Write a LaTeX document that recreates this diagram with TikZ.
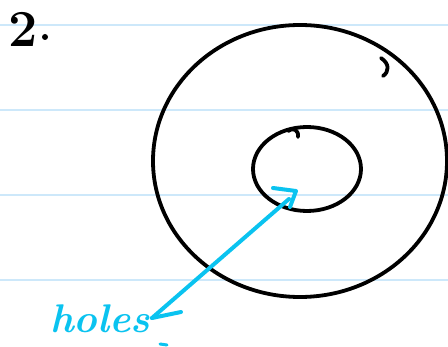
\documentclass[tikz,border=0pt]{standalone}
\usepackage{fontspec}
\begin{document}
\begin{tikzpicture}[x=1pt,y=-1pt,
  ruleline/.style={draw=rulecol,line width=1.5pt},
  ink/.style={draw=black,line width=3.8pt,line cap=round,line join=round},
  cyanink/.style={draw=cyanc,line width=4pt,line cap=round,line join=round}]
\definecolor{rulecol}{RGB}{205,232,250}
\definecolor{cyanc}{RGB}{10,195,240}
\useasboundingbox (0,0) rectangle (448,347);
\fill[white] (0,0) rectangle (448,347);
% notebook lines
\foreach \yy in {25,110,195,280} \draw[ruleline] (0,\yy) -- (448,\yy);
% label 2.
\node[anchor=base west,inner sep=0pt,font=\fontsize{52}{52}\selectfont\bfseries] (num) at (8,47) {2};
\fill (45,37) circle (3);
% outer circle
\coordinate (oc) at (300,161);
\draw[ink] (oc) ellipse [x radius=147, y radius=136];
\draw[ink] (381,58) .. controls (390,64) and (389,72) .. (383,76);
% inner circle
\coordinate (ic) at (307,169);
\draw[ink] (ic) ellipse [x radius=54, y radius=42];
\draw[ink] (288,131) .. controls (293,127) and (299,130) .. (298,137);
% arrow
\coordinate (tip) at (296,191);
\coordinate (tail) at (152,318);
\draw[cyanink] (tail) -- (289,199);
\draw[cyanink] (273,188) -- (tip) -- (290,207);
\draw[cyanink] (tail) -- (181,312);
% label
\node[anchor=base west,inner sep=0pt,text=cyanc,font=\fontsize{40}{40}\selectfont\bfseries\itshape] (holes) at (50,333) {holes};
\draw[cyanink,line width=3pt] (160,344) -- (167,345);
\end{tikzpicture}
\end{document}
